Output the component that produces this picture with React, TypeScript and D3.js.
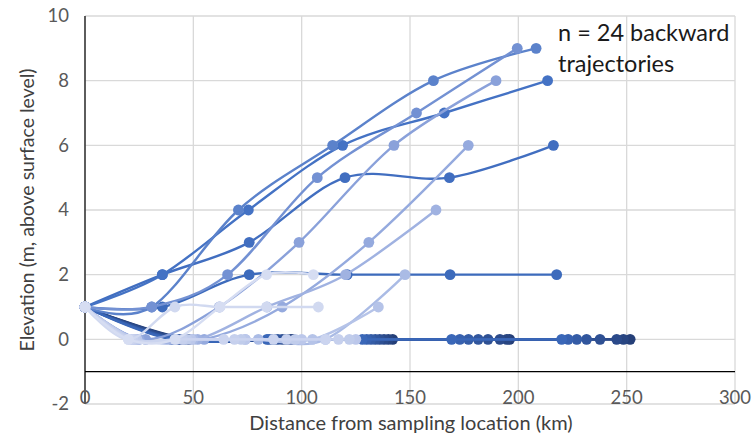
import React from "react";
import * as d3 from "d3";

// Trajectory data: distance (km) and elevation (m), one row per trajectory (n = 24)
const distances: number[][] = [
  [0, 48, 96, 142, 196, 251.6],
  [0, 47, 95, 140, 194.6, 248.5],
  [0, 46, 93, 138, 191.5, 245.4],
  [0, 44, 91, 136, 186, 237.7],
  [0, 43, 89, 134, 181.5, 231.5],
  [0, 42, 87, 132, 177, 227],
  [0, 41, 85, 130, 173, 223],
  [0, 40, 84, 128, 169.2, 220],
  [0, 35.7, 75.8, 121, 168.5, 217.7],
  [0, 35.7, 75.8, 120, 168.2, 216.2],
  [0, 35.7, 75.4, 118.9, 165.8, 213.5],
  [0, 30.8, 70.8, 114.3, 160.8, 208.2],
  [0, 30.8, 65.8, 107.2, 153, 199.5],
  [0, 28, 62, 98.8, 142.6, 189.7],
  [0, 25, 55, 91, 131, 176.9],
  [0, 24, 52, 84, 120.3, 162],
  [0, 22, 50, 80, 111, 147.7],
  [0, 21, 46, 74, 105, 135.4],
  [0, 24, 49, 74, 100, 125],
  [0, 23, 47, 72, 97, 122],
  [0, 22, 45, 69, 93, 117],
  [0, 21, 42, 64, 87, 111],
  [0, 20, 41.5, 62.3, 83.8, 107.7],
  [0, 20, 41.5, 62.3, 83.8, 105.4],
];

const elevations: number[][] = [
  [1, 0, 0, 0, 0, 0],
  [1, 0, 0, 0, 0, 0],
  [1, 0, 0, 0, 0, 0],
  [1, 0, 0, 0, 0, 0],
  [1, 0, 0, 0, 0, 0],
  [1, 0, 0, 0, 0, 0],
  [1, 0, 0, 0, 0, 0],
  [1, 0, 0, 0, 0, 0],
  [1, 1, 2, 2, 2, 2],
  [1, 2, 3, 5, 5, 6],
  [1, 2, 4, 6, 7, 8],
  [1, 1, 4, 6, 8, 9],
  [1, 1, 2, 5, 7, 9],
  [1, 0, 1, 3, 6, 8],
  [1, 0, 0, 1, 3, 6],
  [1, 0, 0, 1, 2, 4],
  [1, 0, 0, 0, 0, 2],
  [1, 0, 0, 0, 0, 1],
  [1, 0, 0, 0, 0, 0],
  [1, 0, 0, 0, 0, 0],
  [1, 0, 0, 0, 0, 0],
  [1, 0, 0, 0, 0, 0],
  [1, 0, 1, 1, 1, 1],
  [1, 0, 0, 1, 2, 2],
];

const xTicks = [0, 50, 100, 150, 200, 250, 300];
const yTicks = [-2, 0, 2, 4, 6, 8, 10];
const xTitle = "Distance from sampling location (km)";
const yTitle = "Elevation (m, above surface level)";
const noteLines = ["n = 24 backward", "trajectories"];

const W = 755;
const H = 439;
const FONT = "Lato, 'Open Sans', sans-serif";

export default function App() {
  const x = d3.scaleLinear().domain([0, 300]).range([85, 735]);
  const y = d3.scaleLinear().domain([-2, 10]).range([404, 16]);

  const color = d3
    .scaleLinear<string>()
    .domain([0, 7, 10, 13, 17, 23])
    .range(["#253f78", "#3a67b8", "#4472c4", "#8aa1da", "#b5c3e8", "#d6ddf2"])
    .interpolate(d3.interpolateRgb);

  const line = d3
    .line<[number, number]>()
    .x((d) => x(d[0]))
    .y((d) => y(d[1]))
    .curve(d3.curveCatmullRom.alpha(0));

  const series = distances.map((xs, i) =>
    xs.map((v, j) => [v, elevations[i][j]] as [number, number])
  );

  return (
    <svg
      width={W}
      height={H}
      style={{ position: "absolute", left: 0, top: 0, background: "#fff" }}
      fontFamily={FONT}
    >
      <rect x={0} y={0} width={W} height={H} fill="#fff" />
      {/* gridlines */}
      {yTicks.map((t) => (
        <line
          key={"gy" + t}
          x1={x(0)}
          x2={x(300)}
          y1={y(t)}
          y2={y(t)}
          stroke="#d9d9d9"
          strokeWidth={1.3}
        />
      ))}
      {xTicks.map((t) => (
        <line
          key={"gx" + t}
          x1={x(t)}
          x2={x(t)}
          y1={y(10)}
          y2={y(-2)}
          stroke="#d9d9d9"
          strokeWidth={1.3}
        />
      ))}
      {/* axes */}
      <line x1={x(0)} x2={x(300)} y1={y(-1)} y2={y(-1)} stroke="#000" strokeWidth={1.2} />
      <line x1={x(0)} x2={x(0)} y1={y(10)} y2={y(-2)} stroke="#000" strokeWidth={1.2} />

      {/* series */}
      {series.map((pts, i) => (
        <g key={"s" + i}>
          <path d={line(pts) || ""} fill="none" stroke={color(i)} strokeWidth={2.4} />
          {pts.map((p, j) => (
            <circle key={j} cx={x(p[0])} cy={y(p[1])} r={5.4} fill={color(i)} />
          ))}
        </g>
      ))}

      {/* tick labels */}
      {yTicks.map((t) => (
        <text
          key={"ty" + t}
          x={69}
          y={y(t)}
          dy="0.35em"
          textAnchor="end"
          fontSize={18.5}
          fill="#595959"
        >
          {t}
        </text>
      ))}
      {xTicks.map((t) => (
        <text
          key={"tx" + t}
          x={x(t)}
          y={404}
          textAnchor="middle"
          fontSize={18.5}
          fill="#595959"
        >
          {t}
        </text>
      ))}

      {/* titles */}
      <text x={411} y={430} textAnchor="middle" fontSize={20} fill="#404040">
        {xTitle}
      </text>
      <text
        transform={`translate(34,210) rotate(-90)`}
        textAnchor="middle"
        fontSize={19.5}
        fill="#404040"
      >
        {yTitle}
      </text>

      {/* annotation */}
      {noteLines.map((s, i) => (
        <text key={"n" + i} x={558} y={41 + i * 31} fontSize={23.5} fill="#1a1a1a">
          {s}
        </text>
      ))}
    </svg>
  );
}
